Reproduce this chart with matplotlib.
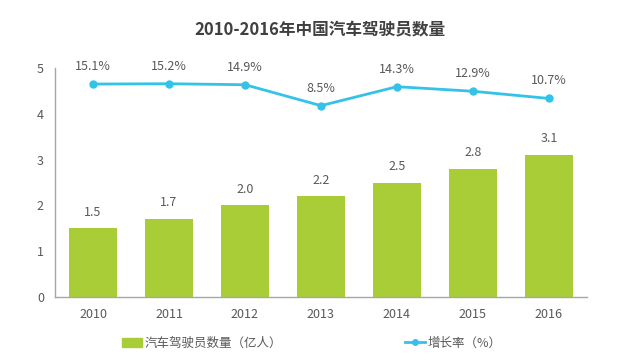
import matplotlib.pyplot as plt
from matplotlib.lines import Line2D
from matplotlib.patches import Patch

plt.rcParams['font.family'] = ['Noto Sans CJK SC', 'DejaVu Sans']

# 数据
years = ['2010', '2011', '2012', '2013', '2014', '2015', '2016']
drivers = [1.5, 1.7, 2.0, 2.2, 2.5, 2.8, 3.1]        # 亿人
growth = [15.1, 15.2, 14.9, 8.5, 14.3, 12.9, 10.7]   # %

bar_color = '#A9CD37'
line_color = '#33C3E8'
text_color = '#595959'

fig = plt.figure(figsize=(6.4, 3.6), dpi=100)
ax = fig.add_axes([0.086, 0.175, 0.831, 0.636])
x = range(len(years))

ax.bar(x, drivers, width=0.63, color=bar_color)
for i, v in zip(x, drivers):
    ax.annotate(f'{v:.1f}', (i, v), xytext=(0, 7), textcoords='offset points',
                ha='center', va='bottom', fontsize=9, color=text_color)

ax.set_xlim(-0.5, 6.5)
ax.set_ylim(0, 5)
ax.set_xticks(list(x))
ax.set_xticklabels(years)
ax.set_yticks([0, 1, 2, 3, 4, 5])
ax.tick_params(length=0, labelsize=9, colors=text_color, pad=8)
for s in ['top', 'right']:
    ax.spines[s].set_visible(False)
for s in ['left', 'bottom']:
    ax.spines[s].set_color('#A6A6A6')
    ax.spines[s].set_linewidth(1)

# 增长率（隐藏的次坐标轴）
ax2 = ax.twinx()
ax2.plot(list(x), growth, color=line_color, lw=2, marker='o', markersize=5)
ax2.set_ylim(-50, 20)
ax2.axis('off')
for i, v in zip(x, growth):
    ax2.annotate(f'{v}%', (i, v), xytext=(0, 8), textcoords='offset points',
                 ha='center', va='bottom', fontsize=9, color=text_color)

fig.text(0.5, 0.915, '2010-2016年中国汽车驾驶员数量', ha='center', va='center',
         fontsize=12, fontweight='bold', color='#404040')

handles = [Patch(color=bar_color),
           Line2D([], [], color=line_color, lw=2, marker='o', markersize=4)]
fig.legend(handles, ['汽车驾驶员数量（亿人）', '增长率（%）'], loc='center',
           bbox_to_anchor=(0.487, 0.047), ncol=2, frameon=False, fontsize=9,
           columnspacing=9.8, handlelength=1.6, handletextpad=0.2,
           labelcolor=text_color)

fig.savefig('out.png', dpi=100)
